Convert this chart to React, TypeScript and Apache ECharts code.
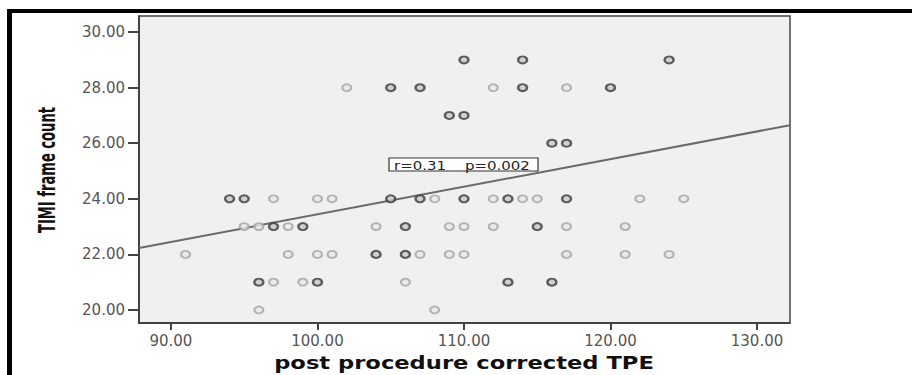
import React, { useEffect, useRef } from "react";
import * as echarts from "echarts";

// Tick labels
const xTicks = [90, 100, 110, 120, 130];
const yTicks = [20, 22, 24, 26, 28, 30];

// Single observations (light markers)
const tpeSingle = [97, 100, 101, 108, 112, 114, 115, 122, 125, 95, 96, 98, 104, 109, 110, 112, 117, 121, 91, 98, 100, 101, 107, 109, 110, 117, 121, 124, 97, 99, 106, 96, 108, 102, 112, 117];
const timiSingle = [24, 24, 24, 24, 24, 24, 24, 24, 24, 23, 23, 23, 23, 23, 23, 23, 23, 23, 22, 22, 22, 22, 22, 22, 22, 22, 22, 22, 21, 21, 21, 20, 20, 28, 28, 28];

// Overlapping observations (dark markers)
const tpeMulti = [94, 95, 105, 107, 110, 113, 117, 97, 99, 106, 115, 104, 106, 96, 100, 113, 116, 105, 107, 114, 120, 110, 114, 124, 109, 110, 116, 117];
const timiMulti = [24, 24, 24, 24, 24, 24, 24, 23, 23, 23, 23, 22, 22, 21, 21, 21, 21, 28, 28, 28, 28, 29, 29, 29, 27, 27, 26, 26];

// Fit line
const fitIntercept = 13.49;
const fitSlope = 0.0995;
const xMin = 87.82;
const xMax = 132.25;
const yMin = 19.53;
const yMax = 30.58;

const statText = "r=0.31    p=0.002";
const xTitle = "post procedure corrected TPE";
const yTitle = "TIMI frame count";

export default function App() {
  const ref = useRef<HTMLDivElement>(null);
  useEffect(() => {
    if (!ref.current) return;
    const chart = echarts.init(ref.current, null, { renderer: "svg" });
    const single = tpeSingle.map((x, i) => [x, timiSingle[i]]);
    const multi = tpeMulti.map((x, i) => [x, timiMulti[i]]);
    const fit = [
      [xMin, fitIntercept + fitSlope * xMin],
      [xMax, fitIntercept + fitSlope * xMax],
    ];
    const labelStyle = {
      fontFamily: "DejaVu Sans",
      fontSize: 15,
      color: "#555",
    };
    chart.setOption({
      animation: false,
      backgroundColor: "#ffffff",
      grid: {
        left: 139,
        top: 16,
        right: 122,
        bottom: 52,
        show: true,
        backgroundColor: "#f0f0f0",
        borderColor: "#444",
        borderWidth: 1.5,
        outerBoundsMode: "none",
      },
      xAxis: {
        type: "value",
        min: xMin,
        max: xMax,
        splitLine: { show: false },
        axisLine: { show: true, onZero: false, lineStyle: { color: "#333", width: 1.5 } },
        axisTick: { show: true, length: 7, customValues: xTicks, lineStyle: { color: "#444", width: 2 } },
        axisLabel: {
          ...labelStyle,
          margin: 10,
          customValues: xTicks,
          formatter: (v: number) => v.toFixed(2),
        },
      },
      yAxis: {
        type: "value",
        min: yMin,
        max: yMax,
        splitLine: { show: false },
        axisLine: { show: true, onZero: false, lineStyle: { color: "#333", width: 1.5 } },
        axisTick: { show: true, length: 11, customValues: yTicks, lineStyle: { color: "#444", width: 2 } },
        axisLabel: {
          ...labelStyle,
          margin: 14,
          customValues: yTicks,
          formatter: (v: number) => v.toFixed(2),
        },
      },
      series: [
        {
          type: "line",
          data: fit,
          symbol: "none",
          lineStyle: { color: "#6a6a6a", width: 2 },
          z: 2,
        },
        {
          type: "scatter",
          data: single,
          symbol: "circle",
          symbolSize: [9, 7],
          itemStyle: { color: "#e8e8e8", borderColor: "#a4a4a4", borderWidth: 2 },
          z: 3,
        },
        {
          type: "scatter",
          data: multi,
          symbol: "circle",
          symbolSize: [9, 7],
          itemStyle: { color: "#c8c8c8", borderColor: "#3a3a3a", borderWidth: 2.2 },
          z: 4,
        },
      ],
      graphic: [
        { type: "rect", left: 7, top: 9, shape: { width: 5, height: 366 }, style: { fill: "#000" }, z: 100 },
        { type: "rect", left: 7, top: 9, shape: { width: 905, height: 4 }, style: { fill: "#000" }, z: 100 },
        {
          type: "rect",
          x: 389,
          y: 158,
          shape: { width: 149, height: 13 },
          style: { fill: "#ffffff", stroke: "#333", lineWidth: 1.2 },
          z: 100,
        },
        {
          type: "text",
          x: 394,
          y: 165,
          style: {
            text: statText,
            fontFamily: "DejaVu Sans",
            fontSize: 13,
            fill: "#222",
            verticalAlign: "middle",
            align: "left",
          },
          scaleX: 1.15,
          z: 101,
        },
        {
          type: "text",
          x: 464,
          y: 363,
          style: {
            text: xTitle,
            fontFamily: "DejaVu Sans",
            fontWeight: "bold",
            fontSize: 17,
            fill: "#111",
            align: "center",
            verticalAlign: "middle",
          },
          scaleX: 1.33,
          z: 100,
        },
        {
          type: "text",
          x: 47,
          y: 170,
          rotation: Math.PI / 2,
          style: {
            text: yTitle,
            fontFamily: "DejaVu Sans",
            fontWeight: "bold",
            fontSize: 23,
            fill: "#111",
            align: "center",
            verticalAlign: "middle",
          },
          scaleX: 0.57,
          z: 100,
        },
      ],
    });
    return () => chart.dispose();
  }, []);
  return (
    <div
      ref={ref}
      style={{ position: "absolute", left: 0, top: 0, width: 912, height: 375 }}
    />
  );
}
